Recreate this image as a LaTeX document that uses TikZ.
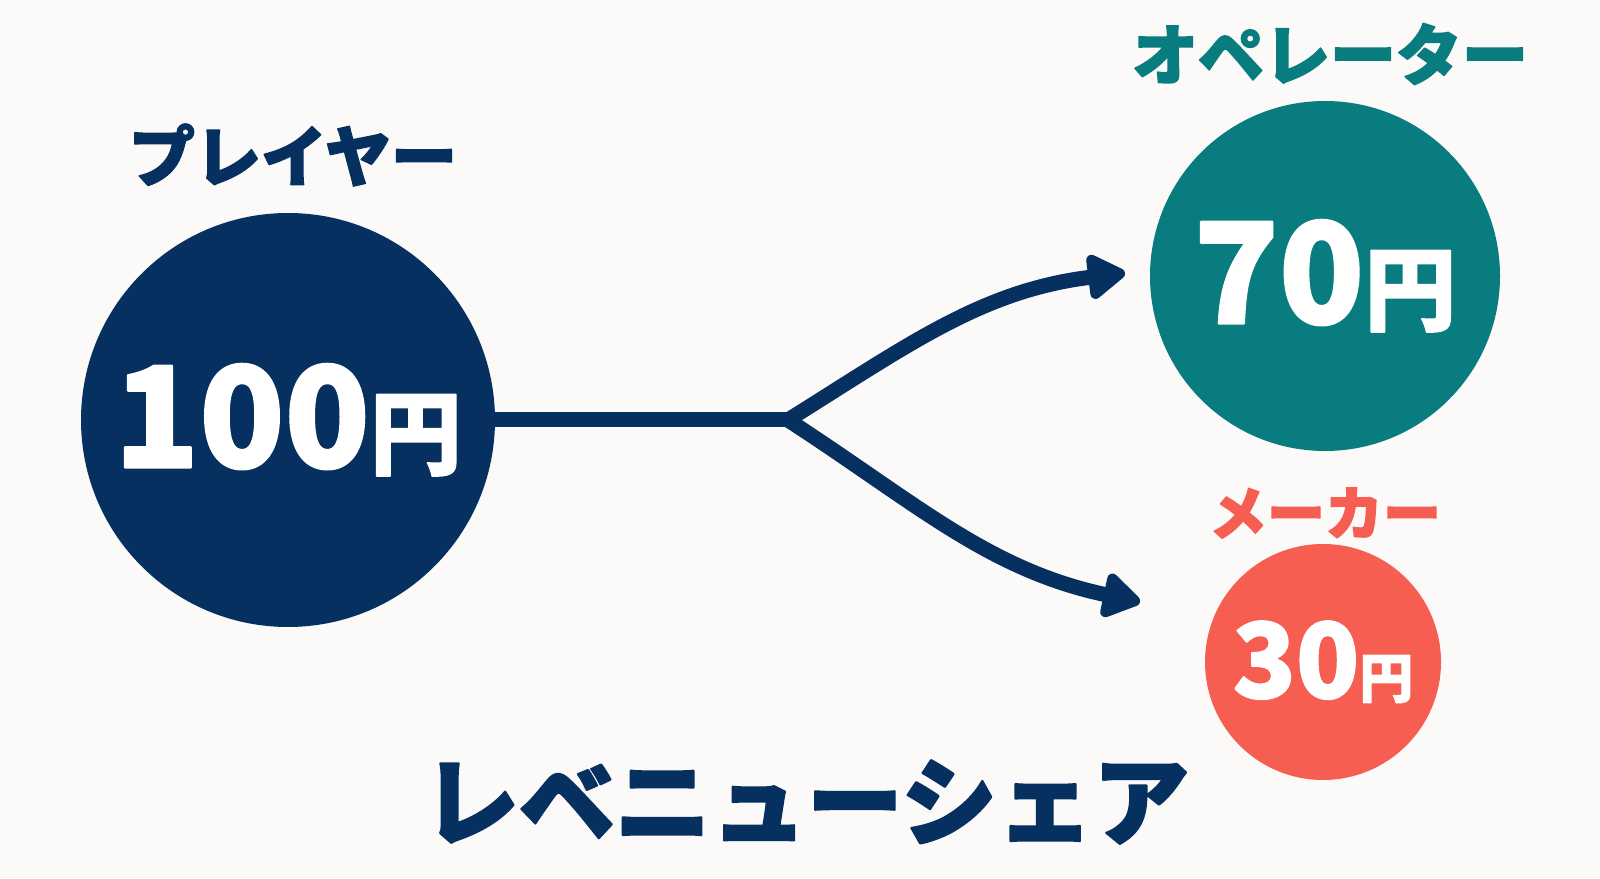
\documentclass[tikz,border=0pt]{standalone}
\usepackage{fontspec}
\setmainfont{Noto Sans CJK JP}[BoldFeatures={FakeBold=1.6}]
\newfontfamily\heavy{Noto Sans CJK JP}[BoldFeatures={FakeBold=2.3}]
\usetikzlibrary{arrows.meta}
\definecolor{bgcol}{HTML}{FBFAF8}
\definecolor{navy}{HTML}{063060}
\definecolor{teal}{HTML}{097C80}
\definecolor{coral}{HTML}{F55E50}
\newcommand{\yen}[2]{\fontsize{#1}{#1}\selectfont\bfseries #2}

\begin{document}
\begin{tikzpicture}[line cap=round,line join=round,x=0.5pt,y=0.5pt,
    coin/.style={circle,inner sep=0pt,text=white},
    who/.style={font=\heavy\fontsize{33}{40}\selectfont\bfseries},
    flow/.style={color=navy,line width=7.5pt},
    >={Triangle[length=21pt,width=25pt,round]}]
    \fill[bgcol] (0,0) rectangle (1600,878);
    % circles
    \node[coin,fill=navy,minimum size=207pt] (player) at (288,458)
      {\yen{70}{100}\yen{46}{円}};
    \node[coin,fill=teal,minimum size=175pt] (operator) at (1325,602)
      {\yen{70}{70}\yen{46}{円}};
    \node[coin,fill=coral,minimum size=118pt] (maker) at (1323,216)
      {\yen{52}{30}\yen{27}{円}};
    % labels
    \node[who,color=navy] (playerlbl) at (293,723) {プレイヤー};
    \node[who,color=teal] (operatorlbl) at (1330,824) {オペレーター};
    \node[who,color=coral,font=\heavy\fontsize{29}{35}\selectfont\bfseries] (makerlbl) at (1325,365) {メーカー};
    \node[color=navy,font=\heavy\fontsize{48}{58}\selectfont\bfseries] (title) at (806,76) {レベニューシェア};
    % split
    \coordinate (fork) at (788,458);
    \coordinate (optip) at (1125,605);
    \coordinate (mktip) at (1140,276);
    \draw[flow,line cap=butt] (player.east) -- (fork);
    \draw[flow,->] (fork) to[out=32,in=187] (optip);
    \draw[flow,->] (fork) to[out=-33,in=168] (mktip);
\end{tikzpicture}
\end{document}
